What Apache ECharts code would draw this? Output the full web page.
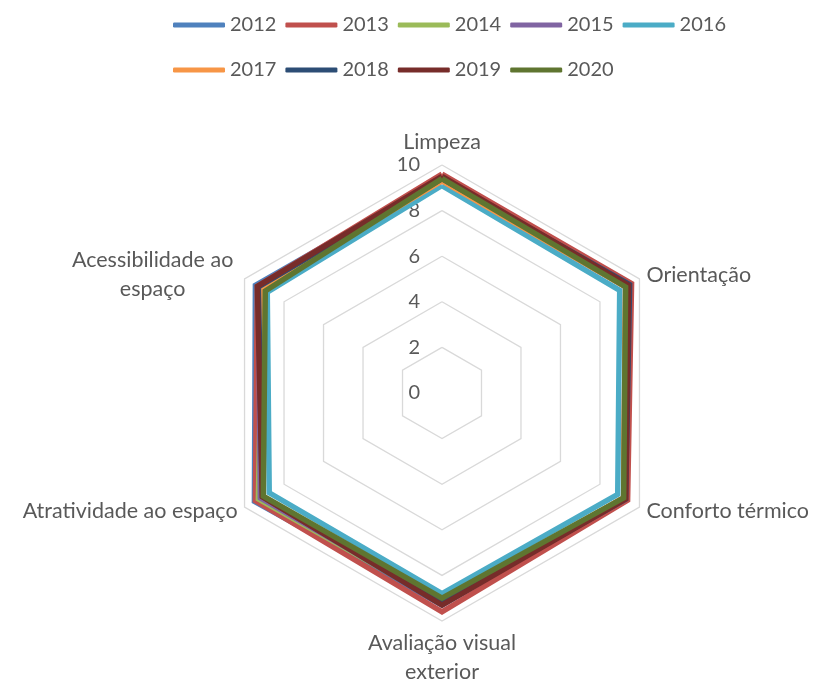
<!DOCTYPE html>
<html>
<head>
<meta charset="utf-8">
<script src="https://cdn.jsdelivr.net/npm/echarts@6/dist/echarts.min.js"></script>
<style>
html,body{margin:0;padding:0;background:#fff;}
#chart{width:819px;height:686px;}
</style>
</head>
<body>
<div id="chart"></div>
<script>
// Categories (indicators, clockwise from top) and tick labels
const indicators = ['Limpeza', 'Orientação', 'Conforto térmico', 'Avaliação visual\nexterior', 'Atratividade ao espaço', 'Acessibilidade ao\nespaço'];
const ticks = [0, 2, 4, 6, 8, 10];
const years = ['2012', '2013', '2014', '2015', '2016', '2017', '2018', '2019', '2020'];

// Series values, same order as indicators
const v2012 = [9.4, 9.4, 9.3, 9.3, 9.5, 9.45];
const v2013 = [9.6, 9.6, 9.4, 9.6, 9.45, 9.35];
const v2014 = [9.4, 9.4, 9.2, 9.2, 9.3, 9.1];
const v2015 = [9.3, 9.3, 9.2, 9.2, 9.2, 9.3];
const v2016 = [9.1, 9.0, 8.9, 8.8, 8.75, 8.85];
const v2017 = [9.3, 9.3, 9.2, 9.1, 9.1, 9.2];
const v2018 = [9.4, 9.5, 9.3, 9.2, 9.1, 9.3];
const v2019 = [9.5, 9.45, 9.3, 9.3, 9.1, 9.35];
const v2020 = [9.4, 9.3, 9.2, 9.0, 9.05, 8.95];

const values = [v2012, v2013, v2014, v2015, v2016, v2017, v2018, v2019, v2020];
const colors = ['#4F81BD', '#C0504D', '#9BBB59', '#8064A2', '#4BACC6', '#F79646', '#2C4D75', '#772C2A', '#5F7530'];

// ECharts radar runs counter-clockwise; reorder so indicators go clockwise
const order = [0, 5, 4, 3, 2, 1];

const FONT = 'Lato';
const TXT = '#595959';

const chart = echarts.init(document.getElementById('chart'));

const series = years.map((y, i) => ({
  name: y,
  type: 'radar',
  radarIndex: 0,
  symbol: 'none',
  z: 2 + i,
  lineStyle: { width: 5.5, color: colors[i], join: 'miter' },
  itemStyle: { color: colors[i] },
  data: [{ name: y, value: order.map(k => values[i][k]) }]
}));

const legendCommon = {
  orient: 'horizontal',
  left: 168,
  itemWidth: 52,
  itemHeight: 5,
  itemGap: 9,
  icon: 'roundRect',
  textStyle: { fontFamily: FONT, fontSize: 20, color: TXT }
};

chart.setOption({
  color: colors,
  animation: false,
  legend: [
    Object.assign({}, legendCommon, { top: 10, data: years.slice(0, 5) }),
    Object.assign({}, legendCommon, { top: 55, data: years.slice(5) })
  ],
  radar: {
    center: [442, 393],
    radius: 228,
    shape: 'polygon',
    splitNumber: 5,
    startAngle: 90,
    indicator: order.map(k => ({ name: indicators[k], min: 0, max: 10 })),
    axisName: {
      color: TXT,
      fontFamily: FONT,
      fontSize: 21.5,
      lineHeight: 29,
      formatter: function (n) {
        if (n.indexOf('Acessibilidade') === 0) {
          return '{c|Acessibilidade ao}\n{c|espaço}';
        }
        return n;
      },
      rich: {
        c: { width: 170, align: 'center', color: TXT, fontFamily: FONT, fontSize: 21.5, lineHeight: 29 }
      }
    },
    nameGap: 8,
    splitLine: { lineStyle: { color: '#D9D9D9', width: 1.3 } },
    splitArea: { show: false },
    axisLine: { show: false },
    axisTick: { show: false },
    axisLabel: { show: false }
  },
  grid: { left: 442, top: 165, height: 228, width: 1 },
  xAxis: { type: 'value', show: false },
  yAxis: {
    type: 'value',
    min: ticks[0],
    max: ticks[ticks.length - 1],
    interval: 2,
    axisLine: { show: false },
    axisTick: { show: false },
    splitLine: { show: false },
    axisLabel: { color: TXT, fontFamily: FONT, fontSize: 20, margin: 22 }
  },
  series: series
});
</script>
</body>
</html>
